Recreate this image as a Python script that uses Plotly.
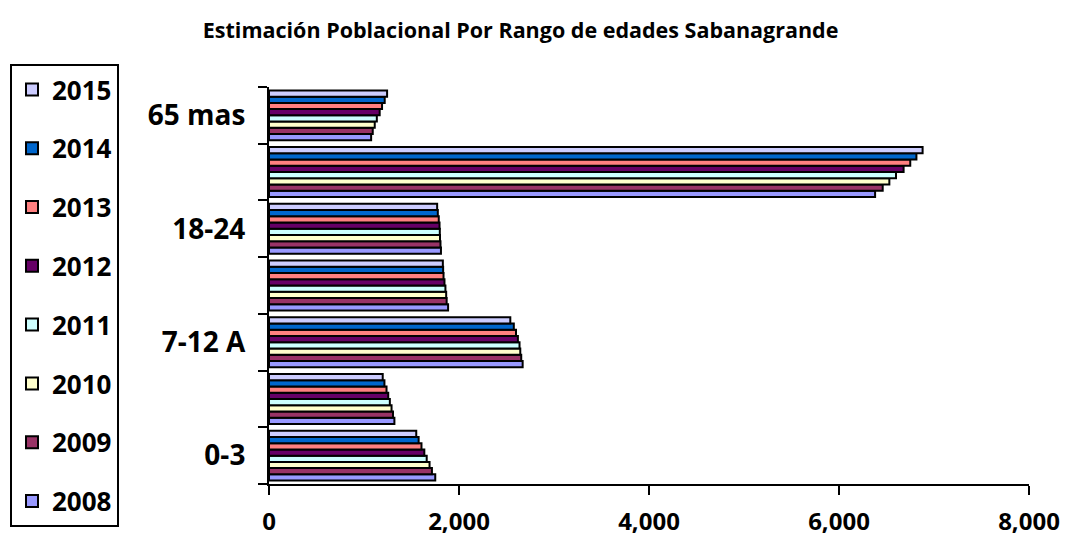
import plotly.graph_objects as go

categories = ["0-3", "4-6", "7-12 A", "13-17", "18-24", "25-64", "65 mas"]
tick_labels = ["0-3", "", "7-12 A", "", "18-24", "", "65 mas"]
years = ["2008", "2009", "2010", "2011", "2012", "2013", "2014", "2015"]

v2008 = [1750, 1320, 2670, 1885, 1810, 6380, 1075]
v2009 = [1715, 1305, 2655, 1870, 1805, 6460, 1092]
v2010 = [1690, 1290, 2645, 1865, 1800, 6530, 1113]
v2011 = [1660, 1272, 2637, 1857, 1798, 6600, 1135]
v2012 = [1635, 1255, 2620, 1847, 1795, 6680, 1165]
v2013 = [1605, 1237, 2600, 1837, 1787, 6750, 1190]
v2014 = [1575, 1215, 2577, 1833, 1777, 6815, 1218]
v2015 = [1550, 1197, 2540, 1830, 1770, 6880, 1243]

series = [v2008, v2009, v2010, v2011, v2012, v2013, v2014, v2015]
colors = ["#9999FF", "#993366", "#FFFFCC", "#CCFFFF", "#660066", "#FF8080", "#0066CC", "#CCCCFF"]

font_family = "Open Sans"

fig = go.Figure()
for i, (yr, vals, col) in enumerate(zip(years, series, colors)):
    fig.add_trace(go.Bar(
        y=categories, x=vals, name=yr, orientation="h",
        marker=dict(color=col, line=dict(color="black", width=2)),
        legendgroup=yr, legendrank=1000 - i,
    ))

fig.update_layout(
    width=1069, height=548,
    paper_bgcolor="white", plot_bgcolor="white",
    barmode="group", bargap=0.12, bargroupgap=0,
    margin=dict(l=269, r=40, t=87, b=64, autoexpand=False),
    title=dict(text="<b>Estimación Poblacional Por Rango de edades Sabanagrande</b>",
               x=0.487, xanchor="center", y=0.945, yanchor="middle",
               font=dict(family=font_family, size=21.5, color="black")),
    font=dict(family=font_family, color="black"),
    legend=dict(
        xref="container", yref="container",
        x=10 / 1069, y=1 - 64 / 548, xanchor="left", yanchor="top",
        traceorder="grouped", tracegroupgap=22, maxheight=520,
        bordercolor="black", borderwidth=2, bgcolor="white",
        font=dict(family=font_family, size=26, color="black", weight="bold"),
        itemwidth=30,
    ),
    showlegend=True,
)

fig.update_xaxes(
    range=[0, 8000], tickvals=[0, 2000, 4000, 6000, 8000], tickformat=",",
    showgrid=False, zeroline=False, automargin=False,
    showline=True, linecolor="black", linewidth=2,
    ticks="outside", ticklen=9, tickwidth=2, tickcolor="black",
    ticklabelstandoff=6,
    tickfont=dict(family=font_family, size=24, color="black", weight="bold"),
)
fig.update_yaxes(
    type="category", categoryorder="array", categoryarray=categories,
    tickvals=categories, ticktext=tick_labels,
    tickson="boundaries", automargin=False,
    showgrid=False, zeroline=False,
    showline=True, linecolor="black", linewidth=2,
    ticks="outside", ticklen=9, tickwidth=2, tickcolor="black",
    ticklabelstandoff=16,
    tickfont=dict(family=font_family, size=28, color="black", weight="bold"),
)

fig.write_html("out.html", config={"displayModeBar": False},
               post_script="document.body.style.margin='0';")
